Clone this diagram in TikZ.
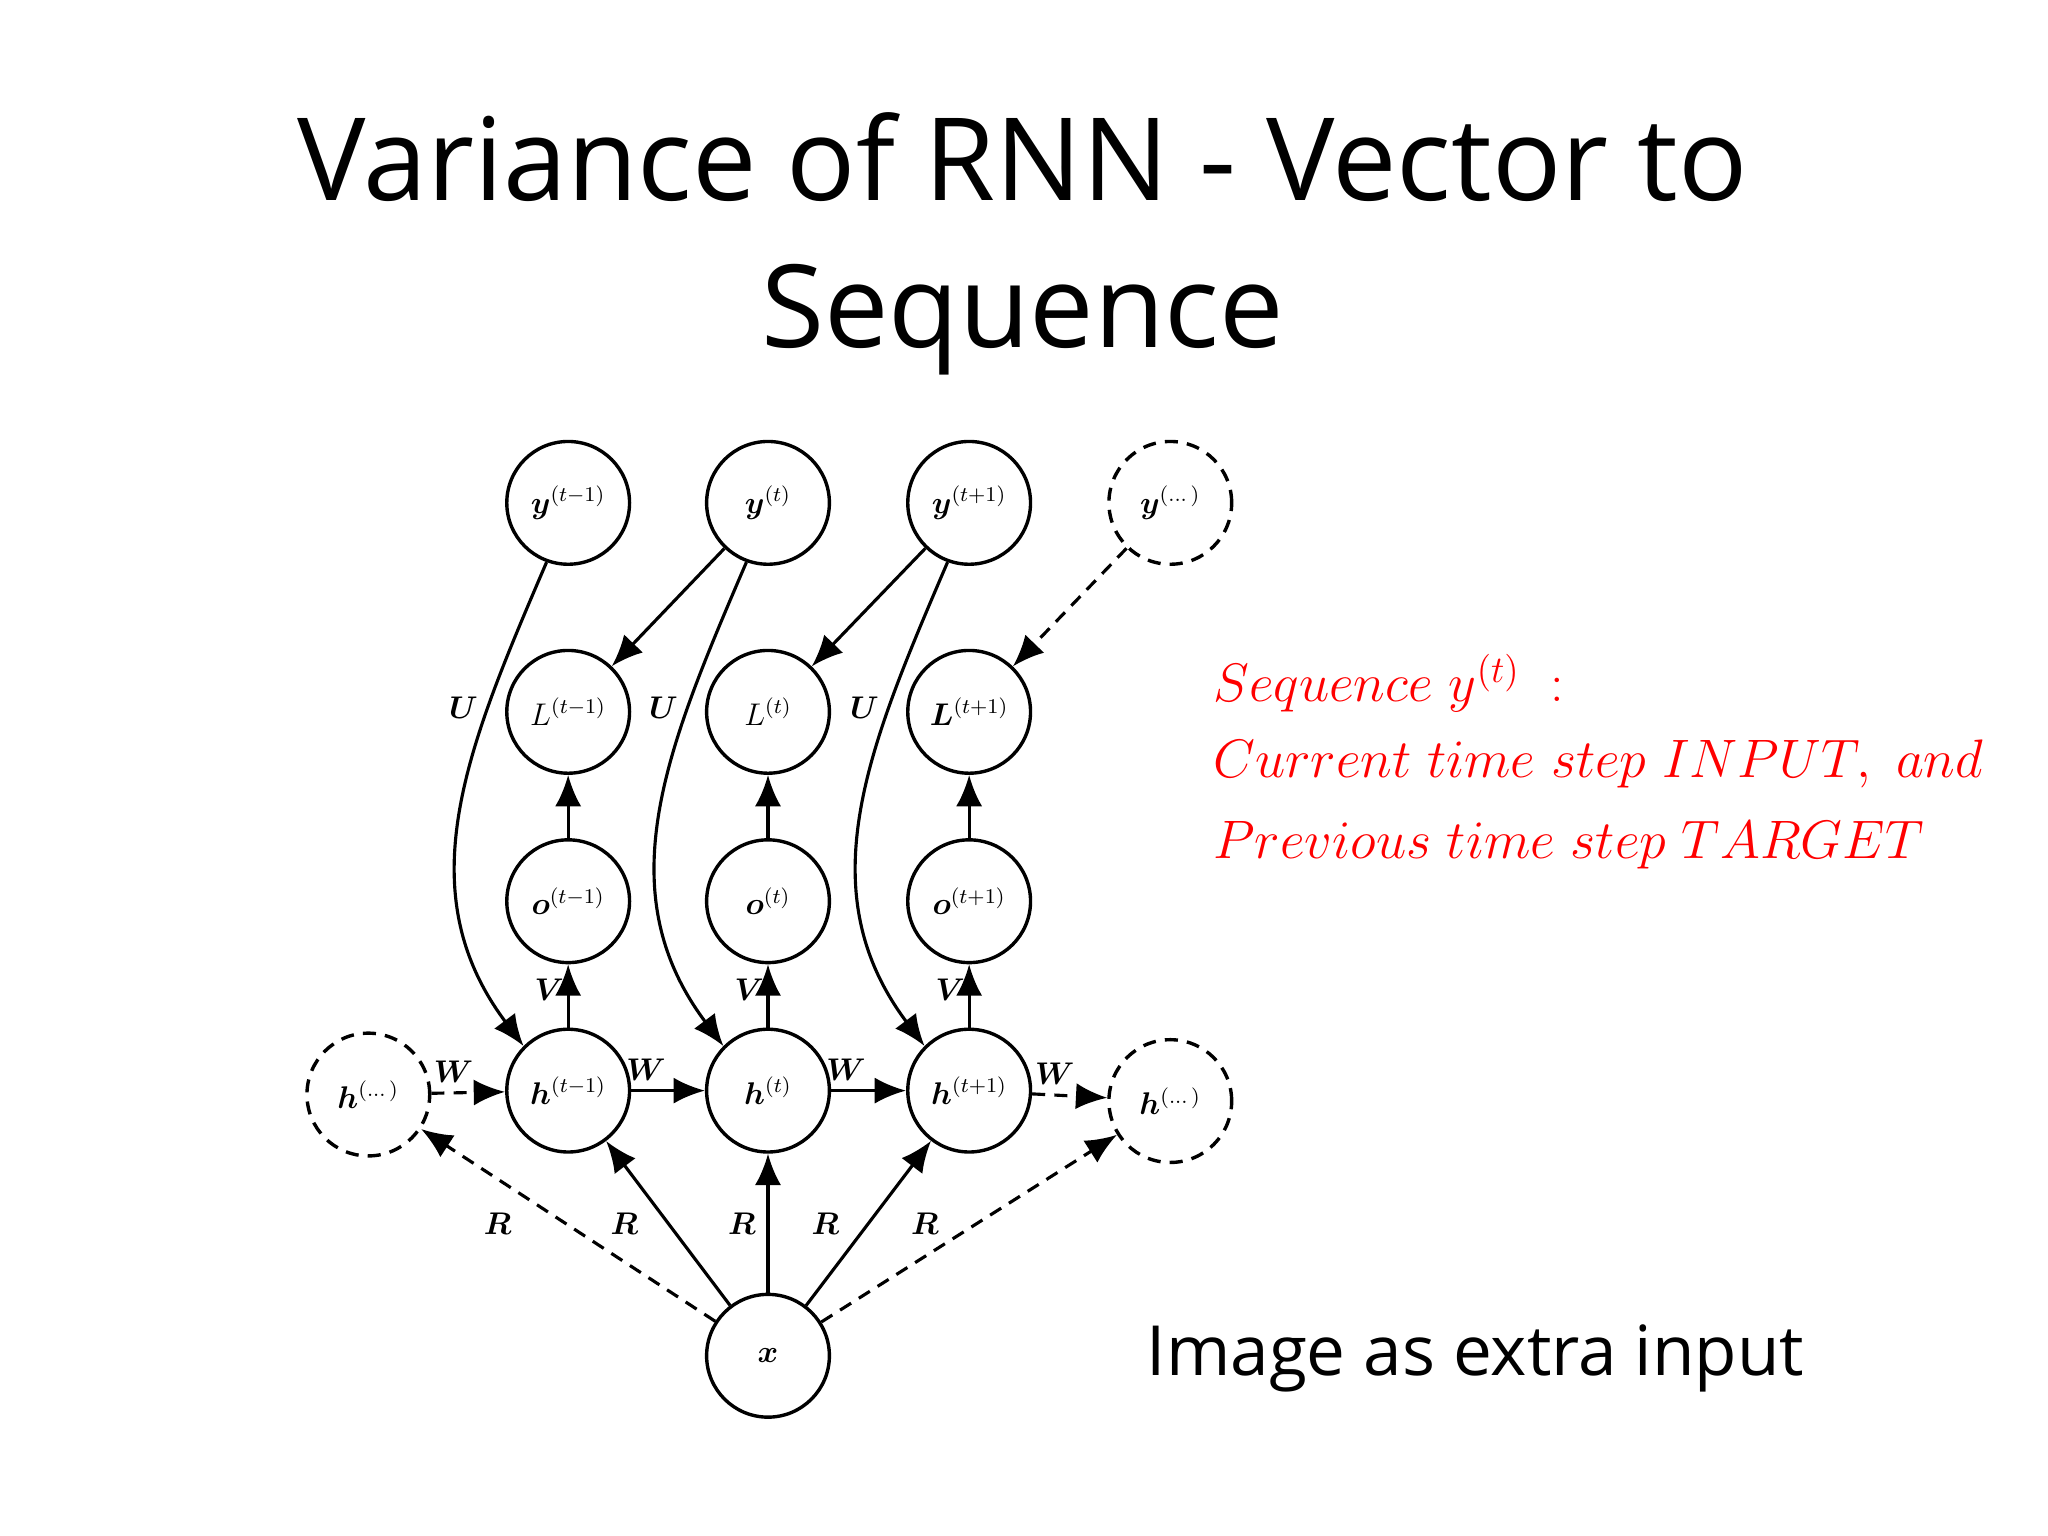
\documentclass[tikz,border=0pt]{standalone}
\usepackage{amsmath,bm}
\usepackage{fontspec}
\setsansfont{Open Sans}
\usetikzlibrary{arrows.meta}
\begin{document}
\begin{tikzpicture}[x=0.5pt,y=-0.5pt,
  ds/.style={dash pattern=on 5pt off 3.5pt},
  nd/.style={circle,draw,line width=1.3pt,minimum size=47pt,inner sep=0pt,font=\fontsize{12}{13}\selectfont},
  dnd/.style={nd,ds},
  ar/.style={line width=1.2pt,-{Latex[length=12pt,width=10pt]}},
  dar/.style={ar,ds},
  lb/.style={font=\fontsize{12}{13}\selectfont}]
\useasboundingbox (0,0) rectangle (1568,1176);
\node[font=\sffamily\fontsize{44}{50}\selectfont] (t1) at (783,120) {Variance of RNN - Vector to};
\node[font=\sffamily\fontsize{44}{50}\selectfont] (t2) at (783,245) {Sequence};
\foreach \n/\x/\s in {a/435/t-1,b/588/t,c/742/t+1}{
  \node[nd] (y\n) at (\x,385) {$\bm{y}^{(\s)}$};
  \node[nd] (o\n) at (\x,690) {$\bm{o}^{(\s)}$};
  \node[nd] (h\n) at (\x,835) {$\bm{h}^{(\s)}$};
  \draw[ar] (h\n) -- node[left,lb,pos=0.6,inner sep=1pt]{$\bm V$} (o\n);
  \draw[ar] (y\n.250) .. controls +(-60,140) and +(-90,-120) .. node[pos=0.28,left,lb]{$\bm U$} (h\n.135);
}
\node[nd] (La) at (435,545) {$L^{(t-1)}$};
\node[nd] (Lb) at (588,545) {$L^{(t)}$};
\node[nd] (Lc) at (742,545) {$\bm{L}^{(t+1)}$};
\foreach \n in {a,b,c}{\draw[ar] (o\n) -- (L\n);}
\node[dnd] (yd) at (896,385) {$\bm{y}^{(\dots)}$};
\node[dnd] (hl) at (282,838) {$\bm{h}^{(\dots)}$};
\node[dnd] (hr) at (896,843) {$\bm{h}^{(\dots)}$};
\node[nd] (x) at (588,1038) {$\bm{x}$};
\draw[ar] (yb) -- (La);
\draw[ar] (yc) -- (Lb);
\draw[dar] (yd) -- (Lc);
\draw[dar] (hl) -- node[above,lb,pos=0.3]{$\bm W$} (ha);
\draw[ar] (ha) -- node[above,lb,pos=0.2]{$\bm W$} (hb);
\draw[ar] (hb) -- node[above,lb,pos=0.2]{$\bm W$} (hc);
\draw[dar] (hc) -- node[above,lb,pos=0.3]{$\bm W$} (hr);
\draw[ar] (x) -- (ha);
\draw[ar] (x) -- (hb);
\draw[ar] (x) -- (hc);
\draw[dar] (x) -- (hl);
\draw[dar] (x) -- (hr);
\node[lb] (r1) at (381,937) {$\bm R$};
\node[lb] (r2) at (478,937) {$\bm R$};
\node[lb] (r3) at (568,937) {$\bm R$};
\node[lb] (r4) at (632,937) {$\bm R$};
\node[lb] (r5) at (708,937) {$\bm R$};
\node[red,anchor=west,font=\fontsize{20}{24}\selectfont] (s1) at (922,523) {$Sequence\ y^{(t)}\ :$};
\node[red,anchor=west,font=\fontsize{20}{24}\selectfont] (s2) at (922,585) {$Current\ time\ step\ INPUT,\ and$};
\node[red,anchor=west,font=\fontsize{20}{24}\selectfont] (s3) at (922,647) {$Previous\ time\ step\ TARGET$};
\node[anchor=west,font=\sffamily\fontsize{26.5}{30}\selectfont] (im) at (871,1040) {Image as extra input};
\end{tikzpicture}
\end{document}
